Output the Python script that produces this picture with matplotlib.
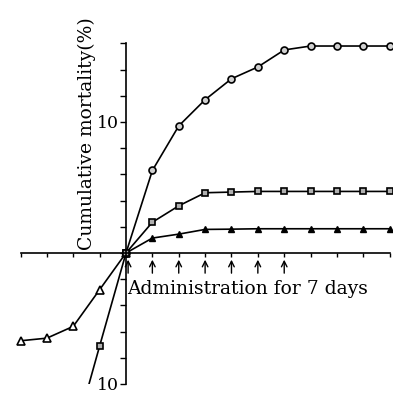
import numpy as np
import matplotlib
matplotlib.use('Agg')
import matplotlib.pyplot as plt

# days after start of administration
days_up = [0, 1, 2, 3, 4, 5, 6, 7, 8, 9, 10]
circle = [0, 6.3, 9.7, 11.7, 13.3, 14.2, 15.5, 15.8, 15.8, 15.8, 15.8]
square = [0, 2.35, 3.6, 4.6, 4.65, 4.7, 4.7, 4.7, 4.7, 4.7, 4.7]
triangle = [0, 1.14, 1.44, 1.8, 1.82, 1.85, 1.85, 1.85, 1.85, 1.85, 1.85]

# lower half (plotted downward)
days_tri_low = [-4, -3, -2, -1, 0]
tri_low = [6.7, 6.5, 5.6, 2.8, 0]
days_sq_low = [-2, -1, 0]
sq_low = [14.3, 7.1, 0]

arrow_days = [0.08, 1, 2, 3, 4, 5, 6]
ytick_vals = list(range(-10, 17, 2))

plt.rcParams['font.family'] = ['DejaVu Serif']

W = 393
ppu = 13.1          # pixels per % on the y axis
fig = plt.figure(figsize=(W / 100, W / 100), dpi=100)
ax = fig.add_axes([0, 9 / W, 1, 384 / W])
ax.set_xlim(-126 / 26.37, (W - 126) / 26.37)
ax.set_ylim(-10, 253 / ppu)

lw = 1.2
ax.plot(days_up, circle, '-', color='k', lw=lw, marker='o', ms=5,
        mfc='#d0d0d0', mec='k', mew=1.2)
ax.plot(days_up, square, '-', color='k', lw=lw, marker='s', ms=5,
        mfc='#b0b0b0', mec='k', mew=1.2)
ax.plot(days_up, triangle, '-', color='k', lw=lw, marker='^', ms=5,
        mfc='k', mec='k')
ax.plot(days_tri_low, -np.array(tri_low), '-', color='k', lw=lw, marker='^',
        ms=5.5, mfc='white', mec='k', mew=1.2)
ax.plot(days_sq_low, -np.array(sq_low), '-', color='k', lw=lw, marker='s',
        ms=5, mfc='#b0b0b0', mec='k', mew=1.2)

for sp in ['top', 'right']:
    ax.spines[sp].set_visible(False)
ax.spines['left'].set_position(('data', 0))
ax.spines['bottom'].set_position(('data', 0))
ax.spines['left'].set_bounds(-10, 16)
ax.spines['bottom'].set_bounds(-4, 10)
ax.spines['left'].set_linewidth(1.2)
ax.spines['bottom'].set_linewidth(1.2)

ax.set_xticks(range(-4, 11))
ax.set_xticklabels([])
ax.tick_params(axis='x', direction='out', length=3, width=1)
ax.set_yticks(ytick_vals)
ax.set_yticklabels(['10' if abs(v) == 10 else '' for v in ytick_vals],
                   fontsize=12.5)
ax.tick_params(axis='y', direction='out', length=4, width=1, pad=1)
ax.patch.set_visible(False)

for d in arrow_days:
    ax.annotate('', xy=(d, -0.3), xytext=(d, -1.75),
                arrowprops=dict(arrowstyle='->', lw=1, color='k'))

ax.text(0.05, -2.75, 'Administration for 7 days', fontsize=13.5,
        ha='left', va='center')
ax.text(-1.5, 0.2, 'Cumulative mortality(%)', fontsize=13.5, rotation=90,
        rotation_mode='anchor', ha='left', va='center')

fig.savefig('out.png', dpi=100)
